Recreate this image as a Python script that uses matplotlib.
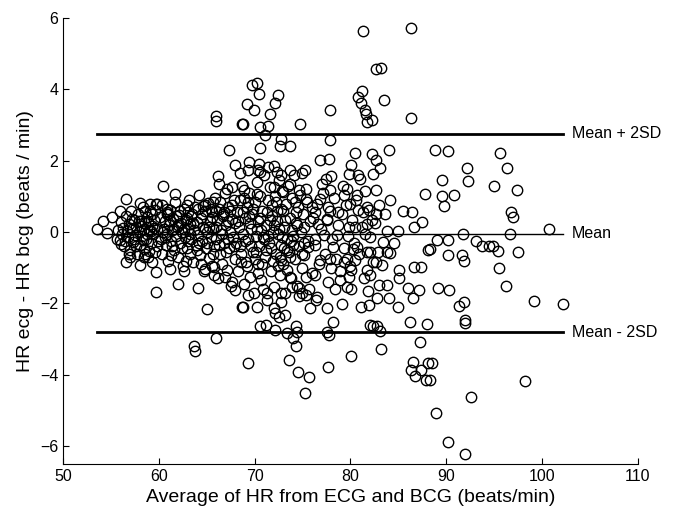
import matplotlib
matplotlib.use("Agg")
import matplotlib.pyplot as plt

plt.rcParams['font.family'] = ['Liberation Sans', 'DejaVu Sans']

# (average HR, difference) pairs, grouped by region
left_tail = [(53.5, 0.10), (54.2, 0.32), (55.1, 0.43), (54.6, -0.02), (55.9, 0.60),
             (56.6, 0.94), (55.6, -0.18), (56.1, -0.32), (56.6, -0.83), (57.0, -0.71),
             (58.0, -0.92), (59.3, -0.83), (59.7, -1.11), (59.7, -1.67), (60.4, 1.28),
             (61.7, 1.08), (61.2, -1.04), (62.0, -1.45), (62.6, -1.08), (64.1, -1.57),
             (65.0, -2.16), (64.8, -1.04), (65.8, -0.99), (66.3, 1.34), (67.1, 1.22),
             (67.6, 0.75), (66.9, -1.25), (67.6, -1.39), (68.0, -1.62), (68.7, -2.11),
             (58.0, 0.82), (59.1, 0.78), (59.8, 0.78), (60.8, 0.52), (62.9, 0.75),
             (64.8, 0.75), (65.7, 0.85), (66.7, 0.52)]

core_low = [(55.7, 0.05), (55.9, -0.22), (56.0, 0.28), (56.2, -0.05), (56.3, 0.12),
            (56.4, -0.38), (56.6, 0.45), (56.7, 0.02), (56.8, -0.15), (56.9, 0.22),
            (57.0, -0.50), (57.1, 0.60), (57.2, 0.08), (57.3, -0.28), (57.4, 0.35),
            (57.5, -0.08), (57.6, 0.15), (57.7, -0.62), (57.8, 0.50), (57.9, 0.00),
            (58.0, -0.35), (58.1, 0.30), (58.2, -0.12), (58.3, 0.70), (58.4, 0.10),
            (58.5, -0.48), (58.6, 0.25), (58.7, -0.20), (58.8, 0.42), (58.9, -0.70),
            (59.0, 0.05), (59.1, 0.58), (59.2, -0.30), (59.3, 0.18), (59.4, -0.05),
            (59.5, 0.35), (59.6, -0.55), (59.7, 0.80), (59.8, 0.10), (59.9, -0.25),
            (56.5, -0.25), (57.4, -0.18), (58.1, 0.18), (58.6, -0.60), (59.3, 0.50),
            (59.8, -0.40), (57.9, 0.32), (58.8, -0.05), (59.5, 0.12), (57.2, 0.38),
            (57.6, -0.40), (58.3, -0.22), (58.9, 0.28), (59.2, 0.02), (59.6, 0.62),
            (57.0, 0.12), (58.4, -0.70), (59.0, -0.52), (56.9, -0.60), (58.6, 0.58)]

core_mid = [(60.1, 0.42), (60.2, -0.18), (60.3, 0.75), (60.35, -0.60), (60.5, 0.08),
            (60.6, 0.30), (60.7, -0.35), (60.8, 0.55), (60.9, -0.05), (61.0, -0.80),
            (61.1, 0.20), (61.2, 0.62), (61.3, -0.25), (61.4, 0.05), (61.5, 0.38),
            (61.6, -0.50), (61.7, 0.85), (61.8, -0.10), (61.9, 0.15), (62.0, -0.70),
            (62.1, 0.48), (62.2, -0.30), (62.3, 0.25), (62.4, 0.00), (62.5, -0.95),
            (62.6, 0.65), (62.7, -0.15), (62.8, 0.35), (62.9, -0.45), (63.0, 0.10),
            (63.1, 0.90), (63.2, -0.60), (63.3, 0.22), (63.4, -0.20), (63.5, 0.50),
            (63.6, -0.85), (63.7, 0.05), (63.8, 0.70), (63.9, -0.35), (64.0, 0.28),
            (64.1, -0.08), (64.2, 1.05), (64.3, -0.65), (64.4, 0.40), (64.5, -0.25),
            (64.6, 0.15), (64.7, -1.10), (64.8, 0.60), (64.9, -0.45), (65.0, 0.00),
            (65.1, 0.82), (65.2, -0.72), (65.3, 0.30), (65.4, -0.15), (65.5, 0.55),
            (65.6, -0.95), (65.7, 0.12), (65.8, -0.40), (65.9, 0.95), (66.0, -0.20),
            (66.1, 0.35), (66.2, -1.30), (66.3, 0.65), (66.4, -0.60), (66.5, 0.05),
            (66.6, -0.90), (66.7, 0.45), (66.8, -0.30), (66.9, 1.10), (67.0, 0.20),
            (67.1, -1.05), (67.2, 0.70), (67.3, -0.45), (67.4, 0.00), (67.5, -1.50),
            (67.6, 0.38), (67.7, -0.15), (67.8, 0.90), (67.9, -0.75), (68.0, 0.25),
            (60.4, 0.00), (61.0, 0.50), (61.6, 0.10), (62.2, 0.60), (62.8, -0.80),
            (63.4, 0.45), (64.0, -0.50), (64.6, 0.72), (65.2, 0.15), (65.8, -1.20),
            (66.4, 0.85), (67.0, -0.55), (67.6, 1.25), (63.0, -0.25), (64.4, -0.90),
            (66.0, 0.60), (61.4, -0.40), (62.6, 0.10), (65.6, 0.42), (67.2, -0.20),
            (60.6, -0.15), (61.2, 0.30), (61.8, 0.45), (62.4, -0.45), (63.0, 0.55),
            (63.6, 0.25), (64.2, -0.30), (64.8, 0.10), (65.4, 0.65), (66.0, 0.15),
            (66.6, -0.05), (67.2, 0.30), (67.8, -0.40), (60.9, 0.65), (62.0, 0.20),
            (63.2, -0.05), (64.5, 0.50), (65.7, -0.60), (66.8, 0.55), (67.4, 0.60),
            (61.3, -0.65), (62.9, 0.40), (64.1, 0.65), (65.0, -0.30), (66.3, -0.35)]

core_high = [(68.1, -0.30), (68.2, 0.55), (68.3, -1.10), (68.4, 0.15), (68.5, 0.90),
             (68.6, -0.60), (68.7, 1.30), (68.8, -0.05), (68.9, -1.45), (69.0, 0.40),
             (69.1, -0.85), (69.2, 0.70), (69.3, -0.20), (69.4, 1.10), (69.5, -1.25),
             (69.6, 0.10), (69.7, 0.50), (69.8, -0.55), (69.9, -1.70), (70.0, 0.85),
             (70.1, -0.10), (70.2, 1.40), (70.3, -0.90), (70.4, 0.30), (70.5, -0.40),
             (70.6, 1.00), (70.7, -1.35), (70.8, 0.60), (70.9, -0.15), (71.0, 1.60),
             (71.1, -0.70), (71.2, 0.20), (71.3, -1.90), (71.4, 0.90), (71.5, -0.30),
             (71.6, 1.25), (71.7, -1.10), (71.8, 0.45), (71.9, 0.00), (72.0, -1.55),
             (72.1, 1.00), (72.2, -0.60), (72.3, 0.30), (72.4, -0.05), (72.5, 1.45),
             (72.6, -1.20), (72.7, 0.65), (72.8, -0.35), (72.9, 1.15), (73.0, -0.90),
             (73.1, 0.15), (73.2, -1.70), (73.3, 0.80), (73.4, -0.20), (73.5, 1.30),
             (73.6, -0.55), (73.7, 0.40), (73.8, -1.30), (73.9, 0.95), (74.0, -0.10),
             (74.1, 1.60), (74.2, -0.75), (74.3, 0.25), (74.4, -1.50), (74.5, 0.70),
             (74.6, -0.40), (74.7, 1.05), (74.8, 0.00), (74.9, -1.00), (75.0, 0.50),
             (75.2, -0.65), (75.4, 1.20), (75.6, -0.25), (75.8, 0.30), (76.0, -1.15),
             (68.3, 0.30), (68.9, 0.95), (69.5, 0.25), (70.1, -0.55), (70.7, 0.05),
             (71.3, 0.55), (71.9, -0.80), (72.5, 0.10), (73.1, -0.45), (73.7, 1.75),
             (74.3, 0.55), (74.9, -0.60), (75.5, 0.85), (69.2, -0.95), (70.4, -1.15),
             (71.0, -0.20), (72.2, 0.85), (73.4, -1.05), (74.6, -1.80), (75.2, 0.15),
             (69.8, 0.65), (71.6, 0.35), (73.0, 0.60), (74.0, -0.35), (68.6, -0.85),
             (70.9, -1.60), (72.8, -1.95), (75.7, -1.60), (70.3, 1.75), (69.0, -0.25),
             (71.7, -0.45), (72.4, -0.95), (73.9, 0.05), (75.1, -0.30),
             (68.5, -0.40), (69.4, 0.45), (70.0, -0.75), (70.6, 0.40), (71.2, -0.50),
             (71.8, 0.75), (72.0, 0.20), (72.6, -0.70), (73.2, 0.35), (73.8, -0.25),
             (74.4, 0.20), (68.8, 0.55), (69.6, -0.40), (70.2, 0.10), (71.4, -0.10),
             (72.9, -0.15), (74.2, 0.85), (69.3, 0.85), (70.8, -0.90), (72.3, 0.60)]

mid_spread = [(76.1, 0.40), (76.3, -0.35), (76.5, 0.80), (76.7, -0.90), (76.9, 0.10),
              (77.1, 1.10), (77.3, -0.60), (77.5, 0.35), (77.7, -1.40), (77.9, 0.60),
              (78.1, -0.20), (78.3, 0.95), (78.5, -0.75), (78.7, 0.20), (78.9, -1.10),
              (79.1, 0.50), (79.3, -0.45), (79.5, 0.75), (79.7, -0.10), (79.9, -0.95),
              (80.2, 0.35), (80.4, -0.30), (80.6, 0.90), (80.9, -0.60), (81.2, 0.15),
              (81.4, -1.30), (81.7, 0.70), (82.0, -0.15), (82.3, -0.85), (82.6, 0.25),
              (76.4, -1.90), (77.4, 1.50), (78.4, -1.60), (79.2, 1.30), (80.1, -1.60),
              (81.0, 1.50), (81.8, -1.65), (83.0, 0.75), (84.5, -0.30), (85.5, 0.60),
              (81.5, 1.15), (82.7, 1.17), (84.1, 0.89), (86.4, 0.57), (87.5, 0.29),
              (86.6, 0.15), (87.8, 1.06), (88.1, -0.50), (83.8, 0.04), (85.0, 0.04),
              (83.4, -0.27), (82.9, -0.55), (83.8, -0.55), (84.1, -0.58), (83.3, -0.92),
              (82.7, -0.83), (81.7, -0.55), (82.0, -0.55), (81.7, -1.06), (82.0, -1.20),
              (85.1, -1.06), (85.1, -1.29), (86.6, -0.97), (87.4, -0.99), (86.0, -1.57),
              (87.1, -1.62), (83.8, -1.48), (83.0, -1.48), (84.0, -1.85), (82.8, -1.85),
              (86.5, -1.85), (85.0, -2.09), (81.9, -2.04), (81.1, -2.09), (79.1, -2.01),
              (77.5, -2.13), (75.8, -2.13), (76.5, -1.81), (75.4, -1.76), (70.2, -2.09),
              (68.8, -2.09), (72.0, -2.13), (72.1, -2.27), (72.5, -2.37), (73.2, -2.32),
              (69.3, -1.76), (71.3, -1.71), (72.7, -1.71), (73.9, -1.53), (74.6, -1.57),
              (74.9, -1.71), (73.7, -1.25), (75.4, -1.25), (76.3, -1.20), (78.9, -1.34),
              (79.8, -1.25), (79.6, -1.53), (80.1, -1.06), (80.5, -0.78), (79.3, -0.83),
              (78.0, -1.01), (76.8, -0.78), (78.2, -0.41), (80.3, -0.46), (80.7, -0.41),
              (79.6, -0.74), (77.9, -0.74), (78.6, -0.08), (79.8, 0.15), (80.5, 0.15),
              (81.5, -0.04), (81.7, 0.24), (82.2, 0.34), (81.3, 0.57), (81.9, 0.61),
              (82.7, 0.52), (83.6, 0.52), (80.8, 0.63), (80.0, 0.80), (80.7, 1.03),
              (79.3, 1.03), (79.6, 1.22), (78.7, 0.57), (77.5, 0.38), (77.7, 0.71),
              (76.3, 0.57), (76.8, 0.94), (77.9, 1.17), (77.0, 1.36), (74.6, 1.17),
              (75.4, 0.94), (76.0, 0.71), (73.0, 1.13), (73.7, 1.34), (72.0, 1.27),
              (70.2, 1.08), (68.9, 1.17), (76.6, 0.24), (77.2, -0.08), (76.3, -0.18),
              (75.6, -0.41), (73.7, -0.69), (73.4, -0.50), (72.7, -0.78)]

high_hr = [(88.8, 2.31), (90.2, 2.26), (95.6, 2.22), (92.2, 1.80), (96.3, 1.80),
           (89.5, 1.45), (92.3, 1.43), (95.0, 1.28), (97.4, 1.19), (89.5, 1.01),
           (90.8, 1.05), (89.8, 0.73), (96.8, 0.57), (97.0, 0.41), (100.7, 0.08),
           (91.7, -0.06), (96.6, -0.06), (89.0, -0.22), (90.2, -0.22), (93.1, -0.25),
           (93.7, -0.39), (94.5, -0.39), (94.9, -0.39), (95.4, -0.53), (97.5, -0.55),
           (88.3, -0.48), (90.2, -0.64), (91.6, -0.64), (91.8, -0.80), (95.5, -1.02),
           (96.2, -1.51), (89.1, -1.57), (90.3, -1.62), (91.8, -1.95), (91.3, -2.07),
           (99.2, -1.92), (102.2, -2.02), (92.0, -2.46)]

upper_out = [(66.0, 3.24), (66.0, 3.10), (68.7, 3.04), (67.3, 2.29), (68.0, 1.87),
             (66.2, 1.56), (68.5, 1.65), (69.7, 4.13), (70.2, 4.19), (70.5, 3.87),
             (69.2, 3.58), (69.9, 3.41), (72.4, 3.83), (72.1, 3.63), (71.6, 3.30),
             (68.8, 3.04), (70.6, 2.94), (71.4, 2.96), (71.1, 2.73), (74.7, 3.04),
             (77.9, 3.41), (72.7, 2.62), (72.6, 2.40), (73.7, 2.40), (70.6, 2.37),
             (77.9, 2.57), (80.8, 3.80), (81.2, 3.95), (81.1, 3.61), (81.5, 3.43),
             (81.6, 3.32), (81.7, 3.08), (82.2, 3.13), (83.5, 3.71), (86.3, 3.20),
             (82.7, 4.57), (83.2, 4.60), (84.0, 2.31), (80.5, 2.23), (82.2, 2.20),
             (82.7, 2.01), (83.1, 1.81), (82.4, 1.64), (76.8, 2.01), (77.8, 2.06),
             (80.1, 1.87), (79.8, 1.64), (80.8, 1.59), (78.0, 1.56), (75.3, 1.75),
             (74.9, 1.66), (72.0, 1.84), (72.3, 1.68), (70.6, 1.68), (69.4, 1.96),
             (70.5, 1.92), (69.3, 1.75), (71.4, 1.82), (72.8, 1.59), (81.3, 5.65),
             (86.3, 5.72)]

lower_out = [(70.6, -2.63), (71.2, -2.60), (72.1, -2.74), (73.4, -2.83), (74.3, -2.63),
             (74.4, -2.81), (74.0, -2.97), (74.3, -3.18), (78.2, -2.51), (77.5, -2.81),
             (77.8, -2.88), (69.3, -3.67), (73.6, -3.59), (74.5, -3.93), (75.7, -4.07),
             (75.3, -4.51), (77.7, -3.78), (80.1, -3.48), (82.0, -2.60), (82.4, -2.63),
             (82.8, -2.64), (83.1, -2.78), (83.2, -3.27), (86.2, -2.51), (88.0, -2.57),
             (87.3, -3.09), (86.5, -3.65), (86.3, -3.87), (86.7, -4.04), (87.4, -3.87),
             (87.9, -4.15), (88.1, -3.67), (63.7, -3.20), (63.8, -3.32), (66.0, -2.97),
             (88.5, -3.67), (88.3, -4.15), (98.2, -4.18), (92.6, -4.62), (88.9, -5.07),
             (90.2, -5.89), (91.9, -6.23), (92.0, -2.55)]

groups = [left_tail, core_low, core_mid, core_high, mid_spread, high_hr, upper_out, lower_out]
avg_hr = [p[0] for g in groups for p in g]
diff_hr = [p[1] for g in groups for p in g]

mean_diff = -0.04
upper_loa = 2.76
lower_loa = -2.80
line_x = [53.5, 102.2]

fig = plt.figure(figsize=(6.74, 5.30), dpi=100)
ax = fig.add_axes([0.0935, 0.1245, 0.853, 0.8415])

ax.plot(avg_hr, diff_hr, 'o', mfc='none', mec='black', ms=7.5, mew=1.0, zorder=3)

ax.plot(line_x, [upper_loa, upper_loa], color='black', lw=2)
ax.plot(line_x, [mean_diff, mean_diff], color='black', lw=1)
ax.plot(line_x, [lower_loa, lower_loa], color='black', lw=2)

ax.text(103.1, upper_loa, 'Mean + 2SD', va='center', ha='left', fontsize=11.5)
ax.text(103.1, mean_diff, 'Mean', va='center', ha='left', fontsize=11.5)
ax.text(103.1, lower_loa, 'Mean - 2SD', va='center', ha='left', fontsize=11.5)

ax.set_xlim(50, 110)
ax.set_ylim(-6.5, 6)
ax.set_xticks(range(50, 111, 10))
ax.set_yticks(range(-6, 7, 2))
ax.spines['top'].set_visible(False)
ax.spines['right'].set_visible(False)
ax.tick_params(direction='in', length=4, labelsize=11.5)

ax.set_xlabel('Average of HR from ECG and BCG (beats/min)', fontsize=14)
ax.set_ylabel('HR ecg - HR bcg (beats / min)', fontsize=14)

fig.savefig('out.png', dpi=100)
